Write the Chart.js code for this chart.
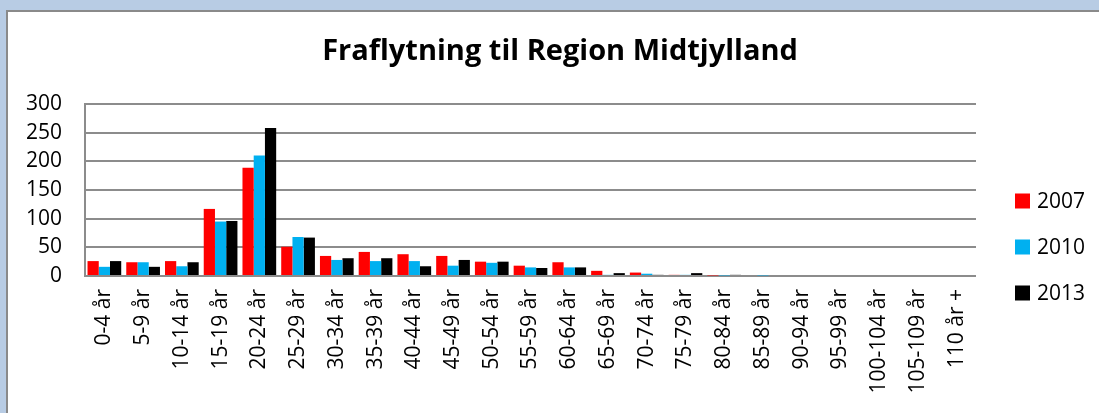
<!DOCTYPE html>
<html>
<head>
<meta charset="utf-8">
<script src="https://cdn.jsdelivr.net/npm/chart.js@4/dist/chart.umd.min.js"></script>
<style>
    html, body { margin: 0; padding: 0; }
    body { width: 1099px; height: 413px; overflow: hidden; background: #b8cce4; position: relative; }
    #ramme { position: absolute; left: 6px; top: 10px; width: 1200px; height: 500px; background: #fff;
             border-left: 2px solid #8a8a8a; border-top: 2px solid #8a8a8a; }
    #graf-wrap { position: absolute; left: 0; top: 0; width: 1099px; height: 413px; }
</style>
</head>
<body>
<div id="ramme"></div>
<div id="graf-wrap"><canvas id="grafico-fraflytning" width="1099" height="413"></canvas></div>
<script>
// Aldersgrupper og antal fraflyttere pr. år
const aldersgrupper = ['0-4 år', '5-9 år', '10-14 år', '15-19 år', '20-24 år', '25-29 år', '30-34 år',
    '35-39 år', '40-44 år', '45-49 år', '50-54 år', '55-59 år', '60-64 år', '65-69 år', '70-74 år',
    '75-79 år', '80-84 år', '85-89 år', '90-94 år', '95-99 år', '100-104 år', '105-109 år', '110 år +'];
const aar = ['2007', '2010', '2013'];
const fraflyt2007 = [26, 24, 26, 117, 189, 51, 35, 42, 38, 35, 25, 18, 24, 9, 6, 2, 1, 0, 0, 0, 0, 0, 0];
const fraflyt2010 = [16, 24, 17, 95, 210, 68, 28, 26, 26, 18, 23, 15, 15, 2, 4, 2, 1, 1, 0, 0, 0, 0, 0];
const fraflyt2013 = [26, 16, 24, 96, 258, 67, 31, 31, 17, 28, 25, 14, 15, 5, 2, 5, 2, 0, 0, 0, 0, 0, 0];
const yTicks = [0, 50, 100, 150, 200, 250, 300];
const titel = 'Fraflytning til Region Midtjylland';

const farver = ['#ff0000', '#00b0f0', '#000000'];
const skrift = "'Open Sans', 'Noto Sans', sans-serif";

// Titel centreret over hele rammen + forklaring til højre for plotområdet
const titelOgForklaring = {
    id: 'titelOgForklaring',
    afterDraw(chart) {
        const ctx = chart.ctx;
        ctx.save();
        ctx.fillStyle = '#000';
        ctx.textBaseline = 'middle';
        ctx.textAlign = 'center';
        ctx.font = 'bold 29px ' + skrift;
        ctx.fillText(titel, 560, 52);

        const x0 = chart.chartArea.right + 39;
        ctx.textAlign = 'left';
        ctx.font = '21px ' + skrift;
        chart.data.datasets.forEach((ds, i) => {
            const y = 201 + i * 46;
            ctx.fillStyle = ds.backgroundColor;
            ctx.fillRect(x0, y - 7.5, 15, 15);
            ctx.fillStyle = '#000';
            ctx.fillText(ds.label, x0 + 22, y + 1);
        });
        ctx.restore();
    }
};

const serier = [fraflyt2007, fraflyt2010, fraflyt2013];

new Chart(document.getElementById('grafico-fraflytning'), {
    type: 'bar',
    data: {
        labels: aldersgrupper,
        datasets: aar.map((a, i) => ({
            label: a,
            data: serier[i],
            backgroundColor: farver[i],
            borderWidth: 0,
            categoryPercentage: 0.87,
            barPercentage: 1
        }))
    },
    options: {
        responsive: false,
        animation: false,
        devicePixelRatio: 1,
        layout: { padding: { left: 0, top: 104, right: 123, bottom: 0 } },
        plugins: {
            legend: { display: false },
            tooltip: { enabled: false },
            title: { display: false }
        },
        scales: {
            x: {
                grid: { display: false, drawTicks: false },
                border: { display: false },
                ticks: {
                    autoSkip: false,
                    maxRotation: 90,
                    minRotation: 90,
                    padding: 13,
                    color: '#000',
                    font: { family: skrift, size: 21 }
                },
                afterFit(scale) { scale.height = 137; }
            },
            y: {
                min: yTicks[0],
                max: yTicks[yTicks.length - 1],
                grid: { color: '#8c8c8c', lineWidth: 2, drawTicks: false },
                border: { display: true, color: '#8c8c8c', width: 2 },
                afterBuildTicks(scale) { scale.ticks = yTicks.map(v => ({ value: v })); },
                ticks: {
                    padding: 23,
                    color: '#000',
                    font: { family: skrift, size: 21 }
                },
                afterFit(scale) { scale.width = 85; }
            }
        }
    },
    plugins: [titelOgForklaring]
});
</script>
</body>
</html>
